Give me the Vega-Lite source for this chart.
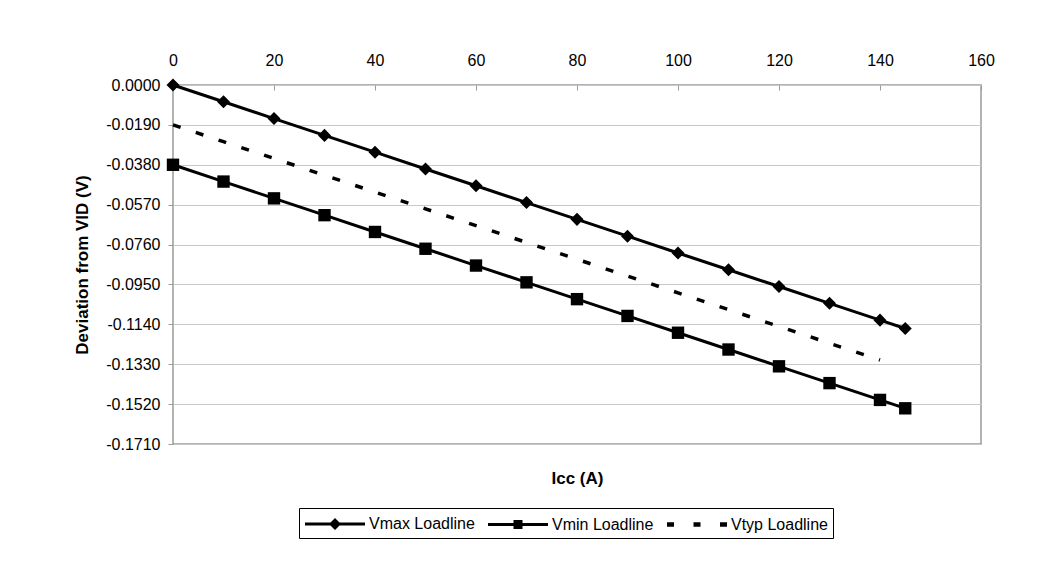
{
  "$schema": "https://vega.github.io/schema/vega-lite/v6.json",
  "width": 808,
  "height": 359,
  "autosize": "none",
  "padding": {"left": 173, "top": 85, "right": 69, "bottom": 124},
  "background": "white",
  "config": {
    "font": "Liberation Sans",
    "view": {"stroke": "#9a9a9a", "strokeWidth": 1.5},
    "axis": {
      "labelFont": "Liberation Sans",
      "titleFont": "Liberation Sans",
      "labelColor": "black",
      "titleColor": "black",
      "labelFontSize": 16,
      "titleFontSize": 17,
      "titleFontWeight": "bold",
      "tickColor": "#9a9a9a",
      "domain": false,
      "labelFlush": false,
      "labelOverlap": false
    }
  },
  "data": {
    "values": [
      {"series": "Vmax Loadline", "icc": 0, "v": 0.0},
      {"series": "Vmax Loadline", "icc": 10, "v": -0.008},
      {"series": "Vmax Loadline", "icc": 20, "v": -0.016},
      {"series": "Vmax Loadline", "icc": 30, "v": -0.024},
      {"series": "Vmax Loadline", "icc": 40, "v": -0.032},
      {"series": "Vmax Loadline", "icc": 50, "v": -0.040},
      {"series": "Vmax Loadline", "icc": 60, "v": -0.048},
      {"series": "Vmax Loadline", "icc": 70, "v": -0.056},
      {"series": "Vmax Loadline", "icc": 80, "v": -0.064},
      {"series": "Vmax Loadline", "icc": 90, "v": -0.072},
      {"series": "Vmax Loadline", "icc": 100, "v": -0.080},
      {"series": "Vmax Loadline", "icc": 110, "v": -0.088},
      {"series": "Vmax Loadline", "icc": 120, "v": -0.096},
      {"series": "Vmax Loadline", "icc": 130, "v": -0.104},
      {"series": "Vmax Loadline", "icc": 140, "v": -0.112},
      {"series": "Vmax Loadline", "icc": 145, "v": -0.116},
      {"series": "Vmin Loadline", "icc": 0, "v": -0.038},
      {"series": "Vmin Loadline", "icc": 10, "v": -0.046},
      {"series": "Vmin Loadline", "icc": 20, "v": -0.054},
      {"series": "Vmin Loadline", "icc": 30, "v": -0.062},
      {"series": "Vmin Loadline", "icc": 40, "v": -0.070},
      {"series": "Vmin Loadline", "icc": 50, "v": -0.078},
      {"series": "Vmin Loadline", "icc": 60, "v": -0.086},
      {"series": "Vmin Loadline", "icc": 70, "v": -0.094},
      {"series": "Vmin Loadline", "icc": 80, "v": -0.102},
      {"series": "Vmin Loadline", "icc": 90, "v": -0.110},
      {"series": "Vmin Loadline", "icc": 100, "v": -0.118},
      {"series": "Vmin Loadline", "icc": 110, "v": -0.126},
      {"series": "Vmin Loadline", "icc": 120, "v": -0.134},
      {"series": "Vmin Loadline", "icc": 130, "v": -0.142},
      {"series": "Vmin Loadline", "icc": 140, "v": -0.150},
      {"series": "Vmin Loadline", "icc": 145, "v": -0.154},
      {"series": "Vtyp Loadline", "icc": 0, "v": -0.019},
      {"series": "Vtyp Loadline", "icc": 10, "v": -0.027},
      {"series": "Vtyp Loadline", "icc": 20, "v": -0.035},
      {"series": "Vtyp Loadline", "icc": 30, "v": -0.043},
      {"series": "Vtyp Loadline", "icc": 40, "v": -0.051},
      {"series": "Vtyp Loadline", "icc": 50, "v": -0.059},
      {"series": "Vtyp Loadline", "icc": 60, "v": -0.067},
      {"series": "Vtyp Loadline", "icc": 70, "v": -0.075},
      {"series": "Vtyp Loadline", "icc": 80, "v": -0.083},
      {"series": "Vtyp Loadline", "icc": 90, "v": -0.091},
      {"series": "Vtyp Loadline", "icc": 100, "v": -0.099},
      {"series": "Vtyp Loadline", "icc": 110, "v": -0.107},
      {"series": "Vtyp Loadline", "icc": 120, "v": -0.115},
      {"series": "Vtyp Loadline", "icc": 130, "v": -0.123},
      {"series": "Vtyp Loadline", "icc": 140, "v": -0.131}
    ]
  },
  "encoding": {
    "y": {
      "field": "v",
      "type": "quantitative",
      "scale": {"domain": [-0.171, 0], "nice": false, "zero": false},
      "axis": {
        "values": [0, -0.019, -0.038, -0.057, -0.076, -0.095, -0.114, -0.133, -0.152, -0.171],
        "labelExpr": "replace(format(datum.value, '.4f'), '−', '-')",
        "labelOverlap": false,
        "grid": true,
        "gridColor": "#c8c8c8",
        "gridWidth": 1.2,
        "tickSize": 5,
        "labelPadding": 8,
        "title": "Deviation from VID (V)",
        "titlePadding": 14
      }
    }
  },
  "layer": [
    {
      "transform": [{"filter": "datum.series !== 'Vtyp Loadline'"}],
      "mark": {"type": "line", "color": "black", "strokeWidth": 3},
      "encoding": {
        "x": {
          "field": "icc",
          "type": "quantitative",
          "scale": {"domain": [0, 160], "nice": false, "zero": false},
          "axis": {"orient": "top", "values": [0, 20, 40, 60, 80, 100, 120, 140, 160], "grid": false, "tickSize": -5, "labelPadding": 22, "title": null}
        },
        "detail": {"field": "series", "type": "nominal"}
      }
    },
    {
      "transform": [{"filter": "datum.series === 'Vtyp Loadline'"}],
      "mark": {"type": "line", "color": "black", "strokeWidth": 3.5, "strokeDash": [8, 16]},
      "encoding": {
        "x": {"field": "icc", "type": "quantitative", "axis": null}
      }
    },
    {
      "transform": [{"filter": "datum.series !== 'Vtyp Loadline'"}],
      "mark": {"type": "point", "filled": true, "color": "black", "opacity": 1, "size": 170},
      "encoding": {
        "x": {"field": "icc", "type": "quantitative", "axis": {"orient": "bottom", "labels": false, "ticks": false, "grid": false, "title": "Icc (A)", "titlePadding": 26}},
        "shape": {
          "field": "series",
          "type": "nominal",
          "scale": {
            "domain": ["Vmax Loadline", "Vmin Loadline"],
            "range": ["M0,-1L1,0L0,1L-1,0Z", "M-0.95,-0.95H0.95V0.95H-0.95Z"]
          },
          "legend": null
        }
      }
    },
    {
      "transform": [{"filter": "datum.icc < 0"}],
      "mark": {"type": "point", "filled": true, "color": "black", "opacity": 1},
      "encoding": {
        "x": {"field": "icc", "type": "quantitative", "axis": null},
        "shape": {
          "field": "series",
          "type": "nominal",
          "scale": {
            "domain": ["Vmax Loadline", "Vmin Loadline", "Vtyp Loadline"],
            "range": [
              "M-1,-0.15H5V0.15H-1ZM2,-0.6L2.6,0L2,0.6L1.4,0Z",
              "M-1,-0.15H5V0.15H-1ZM1.55,-0.45H2.45V0.45H1.55Z",
              "M-1,-0.22H-0.3V0.22H-1ZM1.65,-0.22H2.35V0.22H1.65ZM4.3,-0.22H5V0.22H4.3Z"
            ]
          },
          "legend": {
            "title": null,
            "orient": "none",
            "legendX": 126,
            "legendY": 423,
            "direction": "horizontal",
            "strokeColor": "black",
            "padding": 5,
            "symbolSize": 400,
            "symbolFillColor": "black",
            "symbolOpacity": 1,
            "labelFont": "Liberation Sans",
            "labelFontSize": 16,
            "labelColor": "black",
            "labelOffset": 43,
            "labelLimit": 300,
            "columnPadding": 10
          }
        }
      }
    }
  ],
  "resolve": {"axis": {"x": "independent"}, "scale": {"shape": "independent"}}
}
